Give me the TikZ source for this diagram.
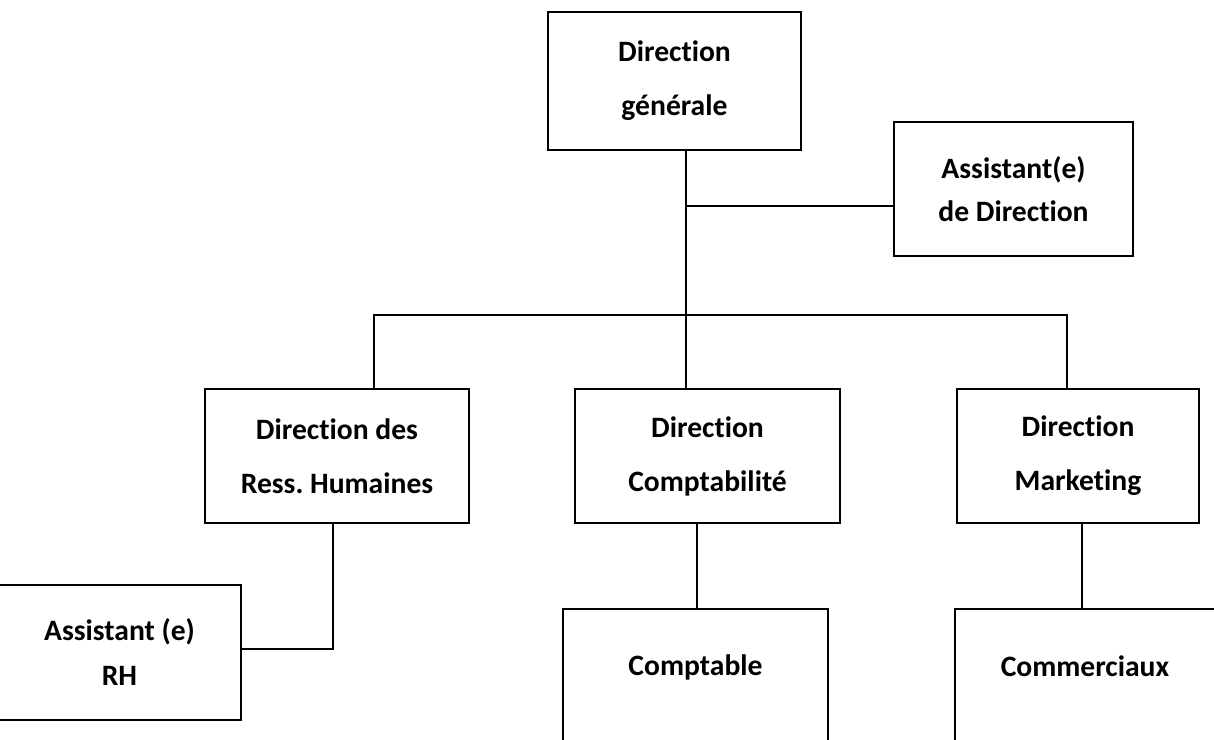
\documentclass[tikz,border=0pt]{standalone}
\usepackage{fontspec}
\newfontfamily\carlito[Ligatures=NoCommon]{Carlito}
\usetikzlibrary{positioning}

\tikzset{
    orgbox/.style={draw, line width=1pt, align=center, inner sep=0pt,
        font=\carlito\bfseries\fontsize{14.8}{27}\selectfont\frenchspacing},
    link/.style={line width=1pt},
}

\begin{document}
\begin{tikzpicture}[x=0.5pt, y=-0.5pt]
        \useasboundingbox (0,0) rectangle (1214,739);
        \clip (0,0) rectangle (1214,739);

        % Boxes
        \node[orgbox, minimum width=126.5pt, minimum height=69pt] (dg) at (674.5,81) {Direction\\générale};
        \node[orgbox, minimum width=119.5pt, minimum height=67pt,
              font=\carlito\bfseries\fontsize{14.8}{21.5}\selectfont] (ad) at (1013.5,189) {Assistant(e)\\de Direction};
        \node[orgbox, minimum width=132pt, minimum height=67pt] (drh) at (337,456) {Direction des\\Ress. Humaines};
        \node[orgbox, minimum width=132.5pt, minimum height=67pt] (dc) at (707.5,456) {Direction\\Comptabilité};
        \node[orgbox, minimum width=121pt, minimum height=67pt] (dm) at (1078,456) {Direction\\Marketing};
        \node[orgbox, minimum width=121.5pt, minimum height=67.5pt,
              font=\carlito\bfseries\fontsize{14.8}{22.5}\selectfont] (arh) at (119.5,652.5) {Assistant (e)\\RH};
        \node[orgbox, minimum width=132.5pt, anchor=north, text height=33pt, text depth=70pt] (comp) at (695.5,608) {Comptable};
        \node[orgbox, minimum width=130pt, anchor=north, text height=33.5pt, text depth=70pt] (com) at (1085,608) {Commerciaux};

        % Lines
        \coordinate (trunk) at (686,315);
        \coordinate (busl) at (374,315);
        \coordinate (busr) at (1067,315);
        \coordinate (adj) at (686,206);
        \draw[link] (trunk |- dg.south) -- (trunk) -- (trunk |- dc.north);
        \draw[link] (adj) -- (adj -| ad.west);
        \draw[link] (busl |- drh.north) -- (busl) -- (busr) -- (busr |- dm.north);
        \draw[link] (dc.south -| 697,0) -- (comp.north -| 697,0);
        \draw[link] (dm.south -| 1082,0) -- (com.north -| 1082,0);
        \draw[link] (drh.south -| 333,0) -- (333,649) -- (arh.east |- 333,649);

\end{tikzpicture}
\end{document}
